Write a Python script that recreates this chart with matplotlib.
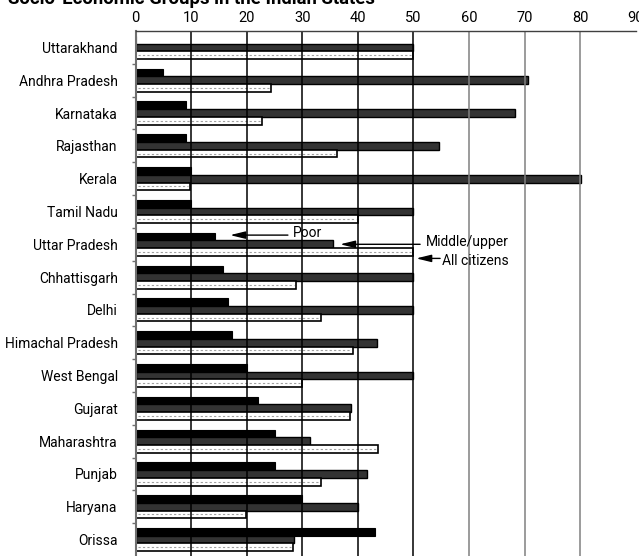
import numpy as np
import matplotlib
matplotlib.use("Agg")
import matplotlib.pyplot as plt

plt.rcParams['font.family'] = ['Roboto', 'DejaVu Sans']

states = ["Uttarakhand", "Andhra Pradesh", "Karnataka", "Rajasthan", "Kerala",
          "Tamil Nadu", "Uttar Pradesh", "Chhattisgarh", "Delhi",
          "Himachal Pradesh", "West Bengal", "Gujarat", "Maharashtra",
          "Punjab", "Haryana", "Orissa"]
poor = [0, 4.9, 9.1, 9.1, 10.0, 10.0, 14.3, 15.7, 16.6, 17.3, 20.0, 22.1,
        25.1, 25.1, 30.0, 43.1]
middle_upper = [50.0, 70.7, 68.2, 54.6, 80.1, 50.0, 35.5, 50.0, 50.0, 43.4,
                50.0, 38.8, 31.3, 41.6, 40.0, 28.5]
all_citizens = [50.0, 24.4, 22.8, 36.3, 9.8, 40.0, 50.0, 28.9, 33.3, 39.1,
                29.9, 38.6, 43.7, 33.3, 19.9, 28.3]
xticks = [0, 10, 20, 30, 40, 50, 60, 70, 80, 90]
title = "Socio-Economic Groups in the Indian States"


def main():
    fig = plt.figure(figsize=(6.39, 5.56), dpi=100)
    ax = fig.add_axes([0.2124, 0.0, 0.7823, 0.9442])
    y = np.arange(len(states))
    h = 0.235

    ax.barh(y - h, poor, height=h, color="black", edgecolor="black",
            linewidth=0.8, zorder=2)
    ax.barh(y, middle_upper, height=h, color="#333333", edgecolor="black",
            linewidth=1.0, zorder=2)
    ax.barh(y + h, all_citizens, height=h, color="white", edgecolor="black",
            linewidth=1.2, zorder=2)
    # dotted centre line inside the "all citizens" bars
    ax.hlines(y + h, 0.4, np.asarray(all_citizens) - 0.4, colors="#a0a0a0",
              linestyles=(0, (2, 2)), linewidth=0.8, zorder=2.5)

    for xv in xticks[1:-1]:
        ax.axvline(xv, color="black" if xv <= 50 else "#808080",
                   linewidth=1.1, zorder=3)

    ax.set_xlim(0, 90)
    ax.set_ylim(len(states) - 0.5, -0.5)
    ax.xaxis.tick_top()
    ax.set_xticks(xticks)
    ax.tick_params(axis="x", length=0, pad=4, labelsize=10.5)
    ax.set_yticks(y)
    ax.set_yticklabels(states)
    ax.set_yticks(y[:-1] + 0.5, minor=True)
    ax.tick_params(axis="y", which="major", length=0, pad=13, labelsize=10)
    ax.tick_params(axis="y", which="minor", length=3, width=1.0,
                   color="#707070", direction="out")

    ax.spines["right"].set_visible(False)
    ax.spines["bottom"].set_visible(False)
    ax.spines["left"].set_color("#707070")
    ax.spines["left"].set_linewidth(1.5)
    ax.spines["top"].set_color("#404040")
    ax.spines["top"].set_linewidth(1.0)
    ax.spines["top"].set_zorder(4)

    arrow = dict(arrowstyle="-|>,head_length=0.9,head_width=0.22",
                 color="black", linewidth=1.0, shrinkA=0, shrinkB=0)
    ax.annotate("", xy=(17.0, 5.72), xytext=(27.4, 5.72), arrowprops=arrow,
                zorder=5)
    ax.text(28.3, 5.66, "Poor", fontsize=10, va="center", ha="left",
            zorder=5)
    ax.annotate("", xy=(36.8, 6.0), xytext=(51.2, 6.0), arrowprops=arrow,
                zorder=5)
    ax.text(52.3, 5.93, "Middle/upper", fontsize=10, va="center",
            ha="left", zorder=5)
    ax.annotate("", xy=(50.5, 6.43), xytext=(54.8, 6.43), arrowprops=arrow,
                zorder=5)
    ax.text(55.1, 6.52, "All citizens", fontsize=10, va="center",
            ha="left", zorder=5)

    fig.text(0.0125, 0.9920, title, fontsize=13.3, fontweight="bold",
             ha="left", va="baseline")
    fig.savefig("out.png", dpi=100)


if __name__ == "__main__":
    main()
